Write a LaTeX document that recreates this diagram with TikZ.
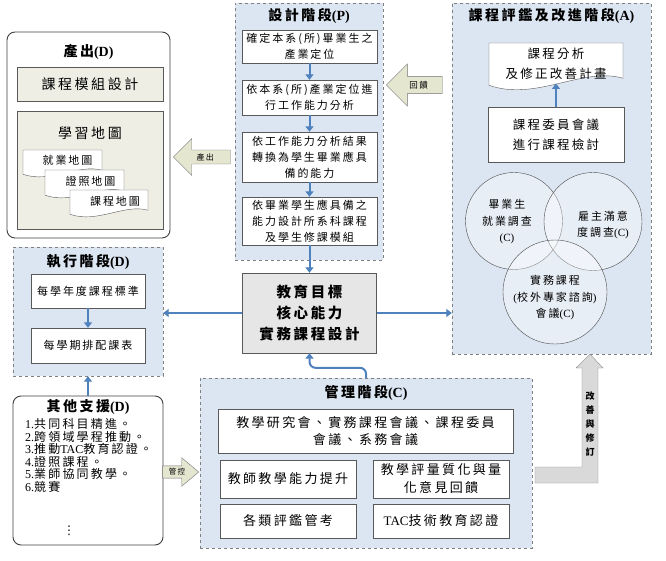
\documentclass[tikz,border=0pt]{standalone}
\usepackage{fontspec}
\setmainfont{Noto Sans CJK TC}[LetterSpace=18]
\newfontfamily\latinfont{Liberation Serif}
\newfontfamily\symbolfont{DejaVu Sans}
\usetikzlibrary{arrows.meta,positioning,shapes.arrows}

\definecolor{panelBlue}{HTML}{DCE6F2}
\definecolor{panelEdge}{HTML}{808080}
\definecolor{flowBlue}{HTML}{4F81BD}
\definecolor{paperBeige}{HTML}{EEEEE4}
\definecolor{arrowOlive}{HTML}{E4E6D0}
\definecolor{coreGray}{HTML}{E6E6E6}
\definecolor{bendGray}{HTML}{D9D9D9}

\newcommand{\fsz}[2]{\fontsize{#1}{#2}\selectfont}
\newcommand{\enf}[1]{{\latinfont #1}}
% wavy "document" sheet: name, x1, y1, x2, y2, node options, text
\newcommand{\paperdoc}[7]{%
  \draw[draw=black!65,fill=white] (#2,#3) -- (#4,#3) -- (#4,{#5-0.25*(#5-#3)})
    .. controls ({#4-0.3*(#4-#2)},{#5-0.5*(#5-#3)}) and ({#2+0.35*(#4-#2)},{#5+0.25*(#5-#3)})
    .. (#2,{#5-0.1*(#5-#3)}) -- cycle;
  \node[align=center,#6] (#1) at ({(#2+#4)/2},{(#3+#5)/2-0.1*(#5-#3)}) {#7};
  \coordinate (#1 foot) at ({(#2+#4)/2},{#5-0.14*(#5-#3)});}

\begin{document}
\begin{tikzpicture}[x=1pt,y=-1pt,
  panel/.style={draw=panelEdge,dashed,fill=panelBlue,inner sep=0pt},
  roundframe/.style={draw=black!75,line width=0.9pt,rounded corners=8pt,fill=white,inner sep=0pt},
  stepbox/.style={draw=black!65,fill=white,align=center,inner sep=2pt,font=\fsz{11}{16}},
  phasetitle/.style={font=\fsz{14}{16}\bfseries},
  flow/.style={draw=flowBlue,line width=2pt,-{Triangle[length=5.5pt,width=8pt]}},
  fatarrow/.style={single arrow,draw=black!55,fill=arrowOlive,single arrow tip angle=90,font=\fsz{8}{8}},
  bubble/.style={circle,draw=black!70,fill=white,fill opacity=0.35,inner sep=0pt},
  bubbletext/.style={align=center,font=\fsz{11}{16.5}},
]
  \useasboundingbox[fill=white] (0,0) rectangle (666,561);

  % design phase (P)
  \node[panel,minimum width=148,minimum height=257] (design) at (309,131.5) {};
  \node[phasetitle] (designT) at (309,16) {設計階段\enf{(P)}};
  \node[stepbox,minimum width=135,minimum height=33] (p1) at (309.5,46.5) {確定本系(所)畢業生之\\產業定位};
  \node[stepbox,minimum width=135,minimum height=35] (p2) at (309.5,97.5) {依本系(所)產業定位進\\行工作能力分析};
  \node[stepbox,minimum width=135,minimum height=50] (p3) at (309.5,157) {依工作能力分析結果\\轉換為學生畢業應具\\備的能力};
  \node[stepbox,minimum width=135,minimum height=48] (p4) at (309.5,221) {依畢業學生應具備之\\能力設計所系科課程\\及學生修課模組};

  % core box
  \node[draw=black!65,fill=coreGray,align=center,font=\fsz{14.5}{21}\bfseries,
        minimum width=134,minimum height=80] (core) at (309.5,313) {教育目標\\核心能力\\實務課程設計};

  % output (D)
  \node[roundframe,minimum width=163,minimum height=206] (output) at (88.5,135) {};
  \node[phasetitle] (outputT) at (88.5,52) {產出\enf{(D)}};
  \node[draw=black!65,fill=paperBeige,minimum width=146,minimum height=34,font=\fsz{14}{16}] (module) at (90,84) {課程模組設計};
  \node[draw=black!65,fill=paperBeige,minimum width=146,minimum height=118] (mapbox) at (90,170) {};
  \node[font=\fsz{14}{16}] (mapT) at (90,133) {學習地圖};
  \paperdoc{jobmap}{23}{150}{102}{177}{font=\fsz{11}{14},xshift=5}{就業地圖}
  \paperdoc{certmap}{45}{170}{124}{198}{font=\fsz{11}{14},xshift=6}{證照地圖}
  \paperdoc{coursemap}{70}{190}{148}{217}{font=\fsz{11}{14},xshift=6}{課程地圖}

  % execution (D)
  \node[panel,minimum width=150,minimum height=129] (exec) at (88,311.5) {};
  \node[phasetitle] (execT) at (88,262) {執行階段\enf{(D)}};
  \node[stepbox,minimum width=114,minimum height=34] (e1) at (88,291) {每學年度課程標準};
  \node[stepbox,minimum width=114,minimum height=35] (e2) at (88,345.5) {每學期排配課表};

  % other support (D)
  \node[roundframe,minimum width=150,minimum height=149] (support) at (88,470.5) {};
  \node[phasetitle] (supportT) at (88,407) {其他支援\enf{(D)}};
  \node[anchor=north west,align=left,inner sep=0pt,font=\fsz{12}{12.5}] (supportL) at (25,418.5)
    {\enf{1.}共同科目精進。\\\enf{2.}跨領域學程推動。\\\enf{3.}推動\enf{TAC}教育認證。\\
     \enf{4.}證照課程。\\\enf{5.}業師協同教學。\\\enf{6.}競賽};
  \node[font=\symbolfont\fsz{12}{12}] (more) at (69,531) {⋮};

  % management (C)
  \node[panel,minimum width=332,minimum height=170] (mgmt) at (366,463) {};
  \node[phasetitle] (mgmtT) at (366,393) {管理階段\enf{(C)}};
  \node[stepbox,minimum width=295,minimum height=44,font=\fsz{13}{17}] (m0) at (365.5,431) {教學研究會、實務課程會議、課程委員\\會議、系務會議};
  \node[stepbox,minimum width=136,minimum height=38,font=\fsz{13}{18}] (m1) at (288,479) {教師教學能力提升};
  \node[stepbox,minimum width=136,minimum height=38,font=\fsz{13}{18}] (m2) at (441,479) {教學評量質化與量\\化意見回饋};
  \node[stepbox,minimum width=136,minimum height=34,font=\fsz{13}{18}] (m3) at (288,521) {各類評鑑管考};
  \node[stepbox,minimum width=136,minimum height=34,font=\fsz{13}{18}] (m4) at (441,521) {\enf{TAC}技術教育認證};

  % assessment and improvement (A)
  \node[panel,minimum width=199,minimum height=351] (assess) at (551.5,178.5) {};
  \node[phasetitle] (assessT) at (551.5,16) {課程評鑑及改進階段\enf{(A)}};
  \paperdoc{plan}{489}{43}{623}{90}{font=\fsz{12.5}{20},yshift=-2}{課程分析\\及修正改善計畫}
  \node[stepbox,minimum width=136,minimum height=55,font=\fsz{12.5}{20}] (review) at (556,134.5) {課程委員會議\\進行課程檢討};
  \node[bubble,minimum size=97] (grad) at (514,221) {};
  \node[bubble,minimum size=98] (employer) at (593,221.5) {};
  \node[bubble,minimum size=104] (expert) at (555,292) {};
  \node[bubbletext] (gradT) at (507,222) {畢業生\\就業調查\\\enf{(C)}};
  \node[bubbletext,font=\fsz{11}{15.5}] (employerT) at (603,225) {雇主滿意\\度調查\enf{(C)}};
  \node[bubbletext] (expertT) at (555,298) {實務課程\\\enf{(}校外專家諮詢\enf{)}\\會議\enf{(C)}};

  % fat arrows
  \node[fatarrow,shape border rotate=180,anchor=tip,minimum height=57,
        single arrow head extend=11.5,inner sep=3pt] (outArrow) at (173,157) {產出};
  \node[fatarrow,shape border rotate=180,anchor=tip,minimum height=56,
        single arrow head extend=12.5,inner sep=4.5pt,font=\fsz{8.5}{8.5}] (backArrow) at (386,85) {回饋};
  \node[fatarrow,anchor=tip,minimum height=36,single arrow head extend=8,single arrow tip angle=80,
        inner xsep=0.5pt,inner ysep=2.5pt,font=\fsz{7.5}{7.5}] (ctrlArrow) at (199,472) {管控};

  % bent arrow back to (A)
  \coordinate (bendtip) at ([xshift=38.5]assess.south);
  \draw[draw=black!45,fill=bendGray] (535,467) -- (582,467) -- (582,368) -- (576,368) -- (bendtip)
    -- (603,368) -- (598,368) -- (598,483) -- (535,483) -- cycle;
  \node[font=\fsz{9}{14}\bfseries,align=center,inner sep=0pt] (reviseT) at (590,424) {改\\善\\與\\修\\訂};

  % flows
  \draw[flow] (p1) -- (p2);
  \draw[flow] (p2) -- (p3);
  \draw[flow] (p3) -- (p4);
  \draw[flow] (p4) -- (core);
  \draw[flow] (core.west) -- (core.west -| exec.east);
  \draw[flow] (core.east) -- (core.east -| assess.west);
  \draw[flow] (e1) -- (e2);
  \draw[flow] (support) -- (exec);
  \draw[flow] (review) -- (plan foot);
  \draw[flow,rounded corners=6pt] (mgmt.north) -- ++(0,-10) -| (core.south);
\end{tikzpicture}
\end{document}
